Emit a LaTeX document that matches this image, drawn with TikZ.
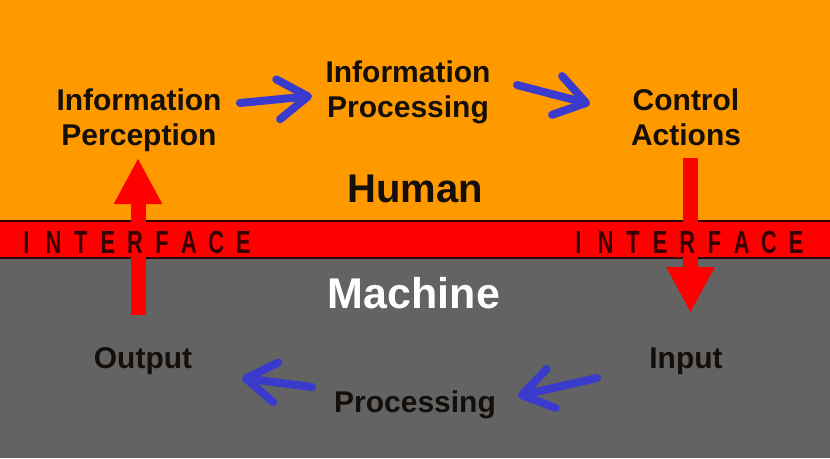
\documentclass[tikz,border=0pt]{standalone}
\usepackage{fontspec}
\setmainfont{Liberation Sans}
\usetikzlibrary{arrows.meta}
\definecolor{bgorange}{RGB}{255,153,0}
\definecolor{bggray}{RGB}{99,99,99}
\definecolor{bandred}{RGB}{255,0,0}
\definecolor{arrowblue}{RGB}{58,58,205}
\definecolor{ifacetext}{RGB}{55,0,0}
\definecolor{labeltext}{RGB}{20,15,10}
\begin{document}
\begin{tikzpicture}[x=1pt,y=-1pt,
  lbl/.style={font=\fontsize{30}{34.5}\selectfont\bfseries, align=center, text=labeltext, inner sep=0pt},
  bigword/.style={font=\bfseries, inner sep=0pt},
  iface/.style={font=\fontsize{32}{32}\selectfont\bfseries, text=ifacetext, inner sep=0pt, anchor=base},
  redarrow/.style={draw=bandred, line width=15pt, -{Triangle[width=45pt,length=46pt]}},
  bluearrow/.style={draw=arrowblue, line width=8pt, line cap=round, -{Straight Barb[length=30pt,width=40pt,round]}},
]
\useasboundingbox (0,0) rectangle (830,458);
\fill[bgorange] (0,0) rectangle (830,221);
\fill[bggray] (0,258) rectangle (830,458);
\fill[bandred] (0,221) rectangle (830,258);
\draw[line width=1.2pt, ifacetext] (0,221) -- (830,221);
\draw[line width=1.2pt, ifacetext] (0,258) -- (830,258);

% labels
\node[lbl, anchor=north] (perc) at (139,89) {Information\\Perception};
\node[lbl, anchor=north] (iproc) at (408,61) {Information\\Processing};
\node[lbl, anchor=north] (ctrl) at (686,89) {Control\\Actions};
\node[bigword, font=\fontsize{40}{40}\selectfont\bfseries, text=labeltext, anchor=base] (human) at (415,202) {Human};
\node[bigword, font=\fontsize{43}{43}\selectfont\bfseries, text=white, anchor=base] (machine) at (414,308) {Machine};
\node[lbl, anchor=base] (output) at (143,368) {Output};
\node[lbl, anchor=base] (mproc) at (415,412) {Processing};
\node[lbl, anchor=base] (input) at (686,368) {Input};

% arrow end coordinates
\coordinate (r1s) at (138,315);
\coordinate (r1e) at (138,158);
\coordinate (r2s) at (690.5,158);
\coordinate (r2e) at (690.5,313);
\coordinate (b1s) at (240,103);
\coordinate (b1e) at (312,96);
\coordinate (b2s) at (517,85);
\coordinate (b2e) at (590,104);
\coordinate (b3s) at (597,378);
\coordinate (b3e) at (518,396);
\coordinate (b4s) at (312,387);
\coordinate (b4e) at (242,378);

\draw[redarrow] (r1s) -- (r1e);
\draw[redarrow] (r2s) -- (r2e);
\draw[bluearrow] (b1s) -- (b1e);
\draw[bluearrow] (b2s) -- (b2e);
\draw[bluearrow] (b3s) -- (b3e);
\draw[bluearrow] (b4s) -- (b4e);

% interface letters (drawn over the red arrows)
\foreach \ch [count=\i from 0] in {I,N,T,E,R,F,A,C,E}{
  \node[iface] (ifl\i) at ({26.5+27.1*\i},253) {\scalebox{0.68}[1]{\ch}};
  \node[iface] (ifr\i) at ({578.5+27.2*\i},253) {\scalebox{0.68}[1]{\ch}};
}
\end{tikzpicture}
\end{document}
